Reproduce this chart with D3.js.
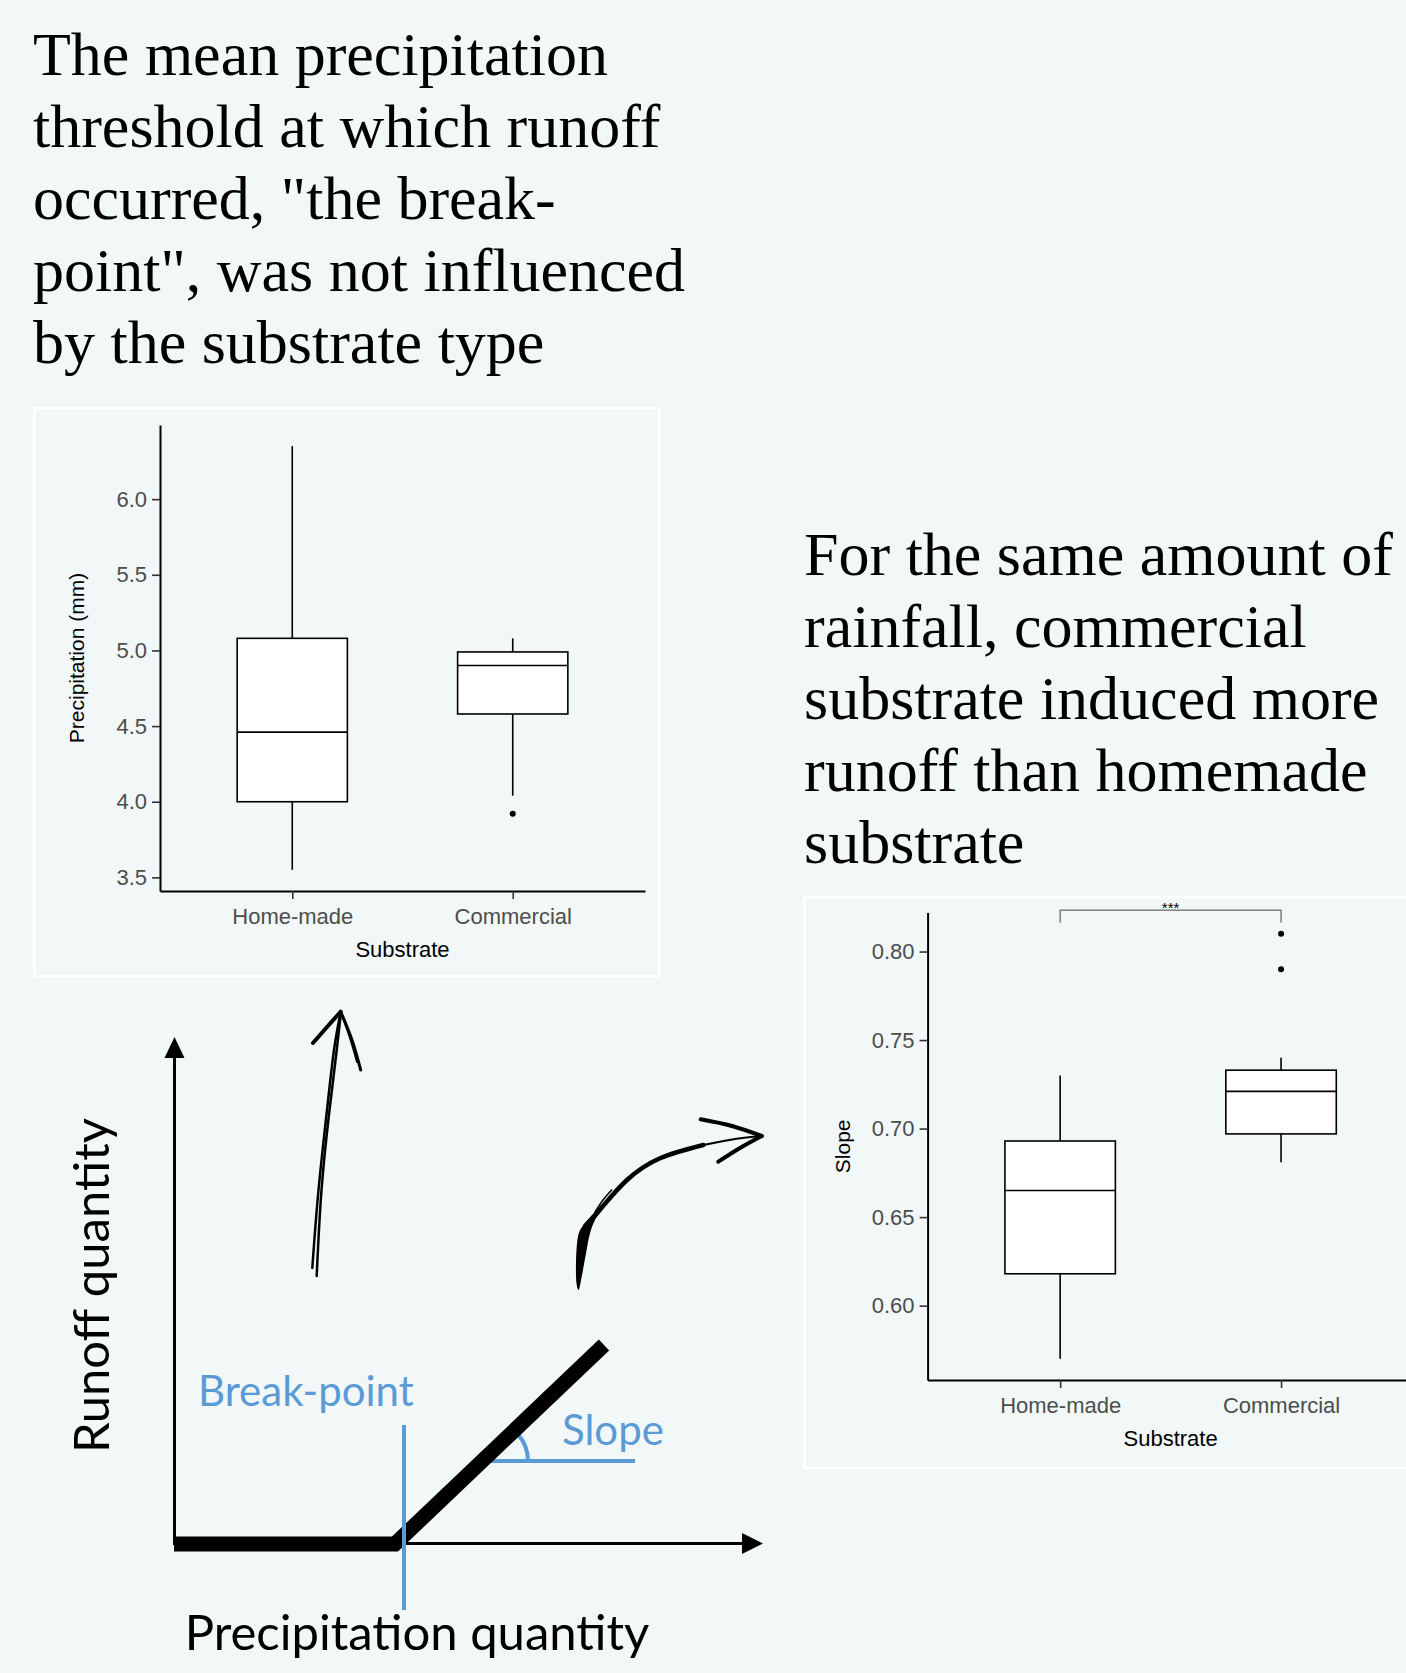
<!DOCTYPE html>
<html>
<head>
<meta charset="utf-8">
<script src="https://cdn.jsdelivr.net/npm/d3@7"></script>
<style>
  html, body { margin: 0; padding: 0; background: #f2f7f7; }
  svg { display: block; }
</style>
</head>
<body>
<svg id="fig" width="1406" height="1673"></svg>
<script>
// ---- data ----
const categories = ["Home-made", "Commercial"];

// break-point (precipitation, mm) boxplot stats
const bpWhiskerLow = [3.55, 4.04];
const bpQ1 = [4.00, 4.58];
const bpMedian = [4.46, 4.90];
const bpQ3 = [5.08, 4.99];
const bpWhiskerHigh = [6.35, 5.08];
const bpOutliers = [[], [3.92]];
const bpTicks = [3.5, 4.0, 4.5, 5.0, 5.5, 6.0];

// slope boxplot stats
const slWhiskerLow = [0.570, 0.681];
const slQ1 = [0.618, 0.697];
const slMedian = [0.665, 0.721];
const slQ3 = [0.693, 0.733];
const slWhiskerHigh = [0.730, 0.740];
const slOutliers = [[], [0.790, 0.810]];
const slTicks = [0.60, 0.65, 0.70, 0.75, 0.80];
const sigLabel = "***";
const sigY = 0.8234, sigTipY = 0.8163;

const leftText = ["The mean precipitation", "threshold at which runoff", "occurred, \"the break-",
                  "point\", was not influenced", "by the substrate type"];
const rightText = ["For the same amount of", "rainfall, commercial", "substrate induced more",
                   "runoff than homemade", "substrate"];

const svg = d3.select("#fig");
const sans = "'Liberation Sans', Arial, sans-serif";
const blue = "#5b9bd5";

// ---- headline text ----
function para(lines, x, y0) {
    svg.append("text")
        .attr("font-family", "'Liberation Serif', 'Times New Roman', serif")
        .attr("font-size", 62)
        .attr("fill", "#000")
        .selectAll("tspan")
        .data(lines)
        .enter().append("tspan")
        .attr("x", x)
        .attr("y", (d, i) => y0 + i * 72)
        .text(d => d);
}
para(leftText, 33, 74.5);
para(rightText, 804, 575);

// ---- boxplot panel ----
function boxplot(o) {
    svg.append("rect")
        .attr("x", o.panel[0]).attr("y", o.panel[1])
        .attr("width", o.panel[2]).attr("height", o.panel[3])
        .attr("fill", "none").attr("stroke", "#fff").attr("stroke-width", 2.5);

    const all = o.lo.concat(o.hi, ...o.out);
    const [mn, mx] = d3.extent(all);
    const pad = (mx - mn) * 0.05;
    const y = d3.scaleLinear().domain([mn - pad, mx + pad]).range([o.y0, o.y1]);
    const x = d3.scalePoint().domain(categories).range([o.x0, o.x1]).padding(0.6);
    const bw = x.step() * 0.5;

    const g = svg.append("g");

    categories.forEach((c, i) => {
        const cx = x(c);
        g.append("line").attr("x1", cx).attr("x2", cx)
            .attr("y1", y(o.hi[i])).attr("y2", y(o.q3[i]))
            .attr("stroke", "#000").attr("stroke-width", 1.6);
        g.append("line").attr("x1", cx).attr("x2", cx)
            .attr("y1", y(o.q1[i])).attr("y2", y(o.lo[i]))
            .attr("stroke", "#000").attr("stroke-width", 1.6);
        g.append("rect")
            .attr("x", cx - bw / 2).attr("y", y(o.q3[i]))
            .attr("width", bw).attr("height", y(o.q1[i]) - y(o.q3[i]))
            .attr("fill", "#fff").attr("stroke", "#000").attr("stroke-width", 1.6);
        g.append("line").attr("x1", cx - bw / 2).attr("x2", cx + bw / 2)
            .attr("y1", y(o.med[i])).attr("y2", y(o.med[i]))
            .attr("stroke", "#000").attr("stroke-width", 1.6);
        g.selectAll(null).data(o.out[i]).enter().append("circle")
            .attr("cx", cx).attr("cy", d => y(d)).attr("r", 3).attr("fill", "#000");
    });

    const ya = svg.append("g").attr("transform", `translate(${o.x0},0)`)
        .call(d3.axisLeft(y).tickValues(o.ticks).tickFormat(d3.format(o.fmt))
            .tickSize(8).tickSizeOuter(0).tickPadding(5));
    const xa = svg.append("g").attr("transform", `translate(0,${o.y0})`)
        .call(d3.axisBottom(x).tickSize(8).tickSizeOuter(0).tickPadding(9));
    [ya, xa].forEach(a => {
        a.select(".domain").attr("stroke", "#000").attr("stroke-width", 2);
        a.selectAll(".tick line").attr("stroke", "#333").attr("stroke-width", 1.6);
        a.selectAll(".tick text").attr("fill", "#4d4d4d")
            .attr("font-family", sans).attr("font-size", 22);
    });

    svg.append("text")
        .attr("x", (o.x0 + o.x1) / 2).attr("y", o.y0 + 66)
        .attr("text-anchor", "middle")
        .attr("font-family", sans).attr("font-size", 22).attr("fill", "#000")
        .text("Substrate");
    svg.append("text")
        .attr("transform", `translate(${o.ytx},${(o.y0 + o.y1) / 2}) rotate(-90)`)
        .attr("text-anchor", "middle")
        .attr("font-family", sans).attr("font-size", 21).attr("fill", "#000")
        .text(o.ytitle);

    return { x, y };
}

boxplot({
    panel: [34.3, 408.2, 625, 568], x0: 160, x1: 645, y0: 891, y1: 425,
    lo: bpWhiskerLow, q1: bpQ1, med: bpMedian, q3: bpQ3, hi: bpWhiskerHigh, out: bpOutliers,
    ticks: bpTicks, fmt: ".1f", ytitle: "Precipitation (mm)", ytx: 84
});

const p2 = boxplot({
    panel: [804.5, 897, 640, 571], x0: 927.6, x1: 1413.6, y0: 1380, y1: 912.6,
    lo: slWhiskerLow, q1: slQ1, med: slMedian, q3: slQ3, hi: slWhiskerHigh, out: slOutliers,
    ticks: slTicks, fmt: ".2f", ytitle: "Slope", ytx: 850
});

// significance bracket
const bx1 = p2.x(categories[0]), bx2 = p2.x(categories[1]);
svg.append("path")
    .attr("d", `M${bx1},${p2.y(sigTipY)}V${p2.y(sigY)}H${bx2}V${p2.y(sigTipY)}`)
    .attr("fill", "none").attr("stroke", "#444").attr("stroke-width", 1);
svg.append("text")
    .attr("x", (bx1 + bx2) / 2).attr("y", p2.y(sigY) + 3)
    .attr("text-anchor", "middle")
    .attr("font-family", sans).attr("font-size", 15).attr("fill", "#000")
    .text(sigLabel);

// ---- schematic: break-point / slope ----
const dg = svg.append("g");
// axes
dg.append("line").attr("x1", 174.5).attr("y1", 1545).attr("x2", 174.5).attr("y2", 1055)
    .attr("stroke", "#000").attr("stroke-width", 3);
dg.append("path").attr("d", "M164.5,1058L174.5,1037L184.5,1058Z").attr("fill", "#000");
dg.append("line").attr("x1", 173).attr("y1", 1543.5).attr("x2", 745).attr("y2", 1543.5)
    .attr("stroke", "#000").attr("stroke-width", 3);
dg.append("path").attr("d", "M742,1533L763,1543.5L742,1554Z").attr("fill", "#000");

// slope marker
dg.append("line").attr("x1", 482).attr("y1", 1461).attr("x2", 635).attr("y2", 1461)
    .attr("stroke", blue).attr("stroke-width", 4);
const arcP = d3.path();
arcP.arc(488, 1461, 40, 0, -0.75, true);
dg.append("path").attr("d", arcP.toString())
    .attr("fill", "none").attr("stroke", blue).attr("stroke-width", 4);

// piecewise runoff line
dg.append("path")
    .attr("d", d3.line()([[174, 1544], [395, 1544], [604, 1345]]))
    .attr("fill", "none").attr("stroke", "#000").attr("stroke-width", 15)
    .attr("stroke-linejoin", "miter");

// break-point line
dg.append("line").attr("x1", 404).attr("y1", 1425).attr("x2", 404).attr("y2", 1610)
    .attr("stroke", blue).attr("stroke-width", 4);

dg.append("text").attr("x", 198).attr("y", 1406)
    .attr("font-family", "Lato, sans-serif").attr("font-size", 42).attr("fill", blue)
    .text("Break-point");
dg.append("text").attr("x", 562).attr("y", 1445)
    .attr("font-family", "Lato, sans-serif").attr("font-size", 42).attr("fill", blue)
    .text("Slope");
dg.append("text").attr("x", 417).attr("y", 1650).attr("text-anchor", "middle")
    .attr("font-family", "Lato, sans-serif").attr("font-size", 49).attr("fill", "#000")
    .text("Precipitation quantity");
dg.append("text")
    .attr("transform", "translate(108.5,1285.5) rotate(-90)")
    .attr("text-anchor", "middle")
    .attr("font-family", "Lato, sans-serif").attr("font-size", 49).attr("fill", "#000")
    .text("Runoff quantity");

// ---- hand-drawn arrows ----
const sketch = d3.line().curve(d3.curveNatural);
function stroke(pts, w) {
    dg.append("path").attr("d", sketch(pts))
        .attr("fill", "none").attr("stroke", "#000").attr("stroke-width", w)
        .attr("stroke-linecap", "round").attr("stroke-linejoin", "round");
}
// upward arrow
stroke([[312.3, 1268], [318.5, 1190], [327, 1110], [334, 1050], [340.7, 1011.7]], 2.5);
stroke([[316.7, 1276], [321.5, 1190], [329.5, 1110], [336.5, 1052], [341, 1012]], 2.5);
stroke([[313, 1043], [327, 1027], [340.7, 1011.7]], 4);
stroke([[340.7, 1011.7], [352, 1040], [360.7, 1070]], 3);
stroke([[341.5, 1014], [350, 1038], [357, 1062]], 2);

// curved arrow
dg.append("path")
    .attr("d", d3.line().curve(d3.curveCatmullRomClosed)([
        [576.7, 1285], [576.5, 1250], [579.3, 1231.7], [585, 1223.3], [593.3, 1215], [603.3, 1205],
        [603.3, 1208.3], [595, 1220], [590, 1233.3], [586, 1253.3], [581.7, 1276.7], [578.5, 1290]
    ]))
    .attr("fill", "#000");
stroke([[585, 1226], [603, 1206], [627, 1180], [660, 1158.3], [703.3, 1145]], 4.5);
stroke([[703.3, 1145], [735, 1139], [761.7, 1136]], 2.2);
stroke([[700.7, 1119.3], [732, 1126], [761.7, 1136]], 4);
stroke([[761.7, 1136], [740, 1148], [718.3, 1161.7]], 4);
stroke([[595, 1212], [603, 1200], [611.7, 1190]], 1.5);
</script>
</body>
</html>
